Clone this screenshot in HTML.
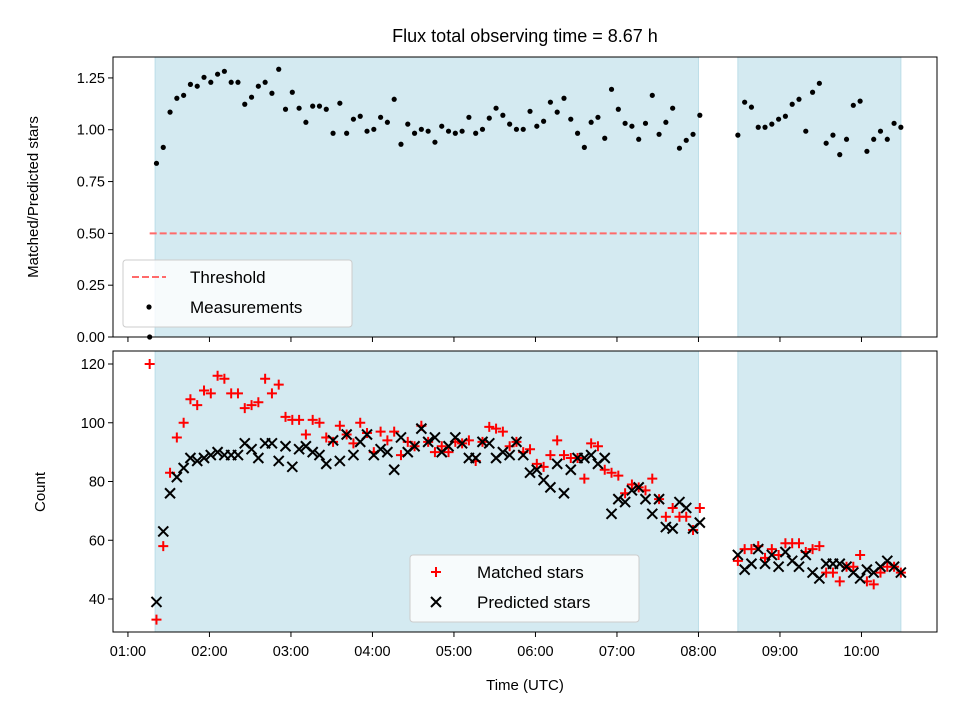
<!DOCTYPE html>
<html><head><meta charset="utf-8"><style>
body{margin:0;background:#fff;}
svg{display:block;font-family:"Liberation Sans","DejaVu Sans",sans-serif;}
</style></head><body>
<svg id="chart" width="960" height="720" xmlns="http://www.w3.org/2000/svg">
<rect width="960" height="720" fill="#fff"/>
<text x="525" y="42" font-size="18" text-anchor="middle">Flux total observing time = 8.67 h</text>
<g id="top"></g><g id="bot"></g>
<text x="525" y="690" font-size="15" text-anchor="middle">Time (UTC)</text>
<text transform="translate(38,197) rotate(-90)" font-size="15" text-anchor="middle">Matched/Predicted stars</text>
<text transform="translate(45,492) rotate(-90)" font-size="15" text-anchor="middle">Count</text>
</svg>
<script>
// ---- data ----
const xTickLabels=["01:00","02:00","03:00","04:00","05:00","06:00","07:00","08:00","09:00","10:00"];
const xTickMinutes=[60,120,180,240,300,360,420,480,540,600];
const shadeStart=[80,509];
const shadeEnd=[480,629];
const thresholdValue=[0.5];
const thresholdSpan=[76,629];
const cadence=5;
const seg1Start=81, seg2Start=509;
const earlyTime=[76], earlyRatio=[0], earlyMatched=[120];
const ratioSeg1=[0.838,0.915,1.085,1.152,1.166,1.219,1.210,1.253,1.229,1.268,1.282,1.229,1.229,1.123,1.157,1.210,1.229,1.176,1.292,1.099,1.181,1.104,1.036,1.114,1.114,1.099,0.983,1.128,0.983,1.051,1.065,0.993,1.002,1.060,1.036,1.147,0.930,1.027,0.983,1.002,0.993,0.940,1.017,0.993,0.983,0.993,1.060,0.983,1.002,1.056,1.104,1.070,1.027,1.002,1.002,1.089,1.017,1.041,1.133,1.085,1.152,1.051,0.983,0.915,1.036,1.060,0.959,1.195,1.099,1.031,1.017,0.954,1.031,1.166,0.978,1.036,1.104,0.911,0.949,0.978,1.070];
const ratioSeg2=[0.974,1.133,1.109,1.012,1.012,1.027,1.051,1.065,1.123,1.147,0.993,1.181,1.224,0.935,0.974,0.880,0.954,1.118,1.138,0.896,0.954,0.993,0.954,1.031,1.012];
const matchedSeg1=[33,58,83,95,100,108,106,111,110,116,115,110,110,105,106,107,115,110,113,102,101,101,96,101,100,95,93.5,99,96,93,100,96.5,90,97,94,97,89,93.5,92,99,93.5,90,92,90,93.5,93,94,87,93.5,98.6,98,97,92,93.5,90,91,86,85,89,94,89,88,88,81,93,92,84,83,82,76,79,78,77,81,74,68,71,68,68,63.5,71];
const predictedSeg1=[39,63,76,81.5,84.6,88,87,88,89,90,89,89,89,93,91,88,93,93,87,92,85,91,92,90,89,86,94,87,96,89,93.5,96,89,91,90,84,95,90,92,98,93.5,95,90,92,95,93,88,88,93.5,93,88,90,89,93.5,89,83,84,80.5,78,86,76,84,88,88,89,86,88,69,74,73,77,78,74,69,74,64.5,64,73,71,64,66];
const matchedSeg2=[53,57,57,58,54,57,55,59,59,59,56,57,58,49,49,46,51,51,55,46,45,49,51,51,49];
const predictedSeg2=[55,50,52,57,52,55,51,56,53,51,55,49,47,52,52,52,51,49,47,50,49,51,53,51,49];
const topTicks=[0,0.25,0.5,0.75,1.0,1.25];
const topTickLabels=["0.00","0.25","0.50","0.75","1.00","1.25"];
const botTicks=[40,60,80,100,120];
const botTickLabels=["40","60","80","100","120"];

// ---- axes ----
const L=113,R=937;
const xDom=[49,655.6];
const X=m=>L+(m-xDom[0])/(xDom[1]-xDom[0])*(R-L);
const TT=57,TB=337,BT=351,BB=632;
const Yt=v=>TB-(v-0)/(1.351-0)*(TB-TT);
const Yb=v=>BB-(v-28.77)/(124.43-28.77)*(BB-BT);
const NS="http://www.w3.org/2000/svg";
function mk(tag,attrs,parent){const e=document.createElementNS(NS,tag);for(const k in attrs)e.setAttribute(k,attrs[k]);parent.appendChild(e);return e;}
const times1=ratioSeg1.map((_,i)=>seg1Start+cadence*i);
const times2r=ratioSeg2.map((_,i)=>seg2Start+cadence*i);
const times2b=matchedSeg2.map((_,i)=>seg2Start+cadence*i);

function panel(g,top,bot,Y,ticks,labels,name){
  let e;
  e=mk('rect',{x:L,y:top,width:R-L,height:bot-top,fill:'#fff'},g);
  
  
  for(let i=0;i<shadeStart.length;i++){
    e=mk('rect',{x:X(shadeStart[i]),y:top,width:X(shadeEnd[i])-X(shadeStart[i]),height:bot-top,fill:'#d4eaf1',stroke:'#bcdde8','stroke-width':1},g);
    
    
  }
  ticks.forEach((v,i)=>{
    const y=Y(v);
    mk('line',{x1:L-5,x2:L,y1:y,y2:y,stroke:'#000','stroke-width':1},g);
    e=mk('text',{x:L-8,y:y+5,'font-size':14.5,'text-anchor':'end'},g);
    e.textContent=labels[i];
    
    
  });
  xTickMinutes.forEach(m=>{mk('line',{x1:X(m),x2:X(m),y1:bot,y2:bot+5,stroke:'#000','stroke-width':1},g);});
}
const gt=document.getElementById('top'),gb=document.getElementById('bot');
panel(gt,TT,TB,Yt,topTicks,topTickLabels,'ratio');
panel(gb,BT,BB,Yb,botTicks,botTickLabels,'count');
xTickMinutes.forEach((m,i)=>{
  const e=mk('text',{x:X(m),y:BB+24,'font-size':14.5,'text-anchor':'middle'},gb);
  e.textContent=xTickLabels[i];
  
  
});
// threshold
let th=mk('line',{x1:X(thresholdSpan[0]),x2:X(thresholdSpan[1]),y1:Yt(thresholdValue[0]),y2:Yt(thresholdValue[0]),stroke:'#ff6a6a','stroke-width':2,'stroke-dasharray':'7,3'},gt);


// measurements
function dot(t,v){const e=mk('circle',{cx:X(t),cy:Yt(v),r:2.6,fill:'#000'},gt);
  
  }
dot(earlyTime[0],earlyRatio[0]);
ratioSeg1.forEach((v,i)=>dot(times1[i],v));
ratioSeg2.forEach((v,i)=>dot(times2r[i],v));
// counts
function plus(t,v){const x=X(t),y=Yb(v);const e=mk('path',{d:`M${x-5},${y}H${x+5}M${x},${y-5}V${y+5}`,stroke:'#f00','stroke-width':2},gb);
  
  }
function cross(t,v){const x=X(t),y=Yb(v);const e=mk('path',{d:`M${x-5},${y-5}L${x+5},${y+5}M${x-5},${y+5}L${x+5},${y-5}`,stroke:'#000','stroke-width':2},gb);
  
  }
plus(earlyTime[0],earlyMatched[0]);
matchedSeg1.forEach((v,i)=>plus(times1[i],v));
predictedSeg1.forEach((v,i)=>cross(times1[i],v));
matchedSeg2.forEach((v,i)=>plus(times2b[i],v));
predictedSeg2.forEach((v,i)=>cross(times2b[i],v));
// frames
[[TT,TB],[BT,BB]].forEach(([a,b])=>mk('rect',{x:L,y:a,width:R-L,height:b-a,fill:'none',stroke:'#000','stroke-width':1},document.getElementById('chart')));
// legends
function legend(x,y,w,h,items,name){
  const g=mk('g',{},document.getElementById('chart'));
  
  
  mk('rect',{x:x,y:y,width:w,height:h,rx:3,fill:'#fff','fill-opacity':0.8,stroke:'#ccc'},g);
  items.forEach((it,i)=>{
    const cy=y+17+i*30,cx=x+26;
    if(it.k==='dash')mk('line',{x1:x+9,x2:x+43,y1:cy,y2:cy,stroke:'#ff6a6a','stroke-width':2,'stroke-dasharray':'7,3'},g);
    if(it.k==='dot')mk('circle',{cx:cx,cy:cy,r:2.6,fill:'#000'},g);
    if(it.k==='plus')mk('path',{d:`M${cx-5},${cy}H${cx+5}M${cx},${cy-5}V${cy+5}`,stroke:'#f00','stroke-width':2},g);
    if(it.k==='cross')mk('path',{d:`M${cx-5},${cy-5}L${cx+5},${cy+5}M${cx-5},${cy+5}L${cx+5},${cy-5}`,stroke:'#000','stroke-width':2},g);
    const t=mk('text',{x:x+67,y:cy+6,'font-size':17},g);
    t.textContent=it.t;
    
    
  });
}
legend(123,260,229,67,[{k:'dash',t:'Threshold'},{k:'dot',t:'Measurements'}],'ratio-legend');
legend(410,555,229,67,[{k:'plus',t:'Matched stars'},{k:'cross',t:'Predicted stars'}],'count-legend');
</script>
</body></html>
